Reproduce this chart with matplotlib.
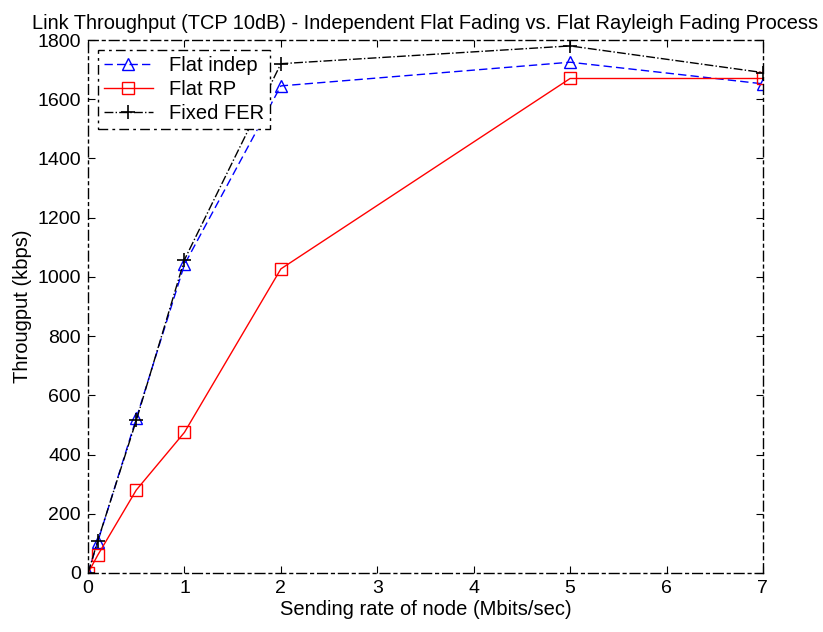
import matplotlib
matplotlib.use("Agg")
import matplotlib.pyplot as plt

plt.rcParams['font.family'] = ['Liberation Sans', 'DejaVu Sans']

x = [0, 0.1, 0.5, 1, 2, 5, 7]
flat_indep = [0, 105, 522, 1042, 1645, 1725, 1652]
flat_rp = [0, 60, 280, 475, 1027, 1670, 1670]
fixed_fer = [0, 108, 515, 1058, 1720, 1780, 1690]

xticks = [0, 1, 2, 3, 4, 5, 6, 7]
yticks = [0, 200, 400, 600, 800, 1000, 1200, 1400, 1600, 1800]

fig = plt.figure(figsize=(8.23, 6.32), dpi=100)
ax = fig.add_axes([0.107, 0.0934, 0.820, 0.8433])

ax.plot(x, flat_indep, color='blue', linestyle=(0, (6, 3)), lw=1.0,
        marker='^', markersize=9, markerfacecolor='none', markeredgecolor='blue',
        label='Flat indep')
ax.plot(x, flat_rp, color='red', linestyle='-', lw=1.0,
        marker='s', markersize=9, markerfacecolor='none', markeredgecolor='red',
        label='Flat RP')
ax.plot(x, fixed_fer, color='black', linestyle='-.', lw=1.0,
        marker='+', markersize=10, markeredgewidth=1.2,
        label='Fixed FER')

ax.set_xlim(0, 7)
ax.set_ylim(0, 1800)
ax.set_xticks(xticks)
ax.set_yticks(yticks)
ax.tick_params(direction='in', length=5, labelsize=14, top=True, right=True, pad=5)

for sp in ax.spines.values():
    sp.set_linestyle((0, (7, 3, 2, 3)))
    sp.set_linewidth(1.0)

ax.set_xlabel('Sending rate of node (Mbits/sec)', fontsize=14.5, labelpad=2)
ax.set_ylabel('Througput (kbps)', fontsize=14.5, labelpad=4)
ax.set_title('Link Throughput (TCP 10dB) - Independent Flat Fading vs. Flat Rayleigh Fading Process',
             fontsize=14.4, pad=8)

leg = ax.legend(loc='upper left', fontsize=14.5, fancybox=False, framealpha=1,
                edgecolor='black', borderaxespad=0.5, handlelength=2.4,
                borderpad=0.3, labelspacing=0.25)
leg.get_frame().set_linestyle((0, (7, 3, 2, 3)))
leg.get_frame().set_linewidth(1.0)

fig.savefig('out.png', dpi=100)
